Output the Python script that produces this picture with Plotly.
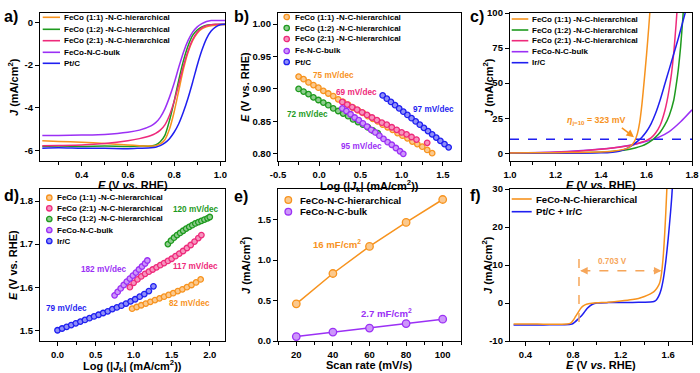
import plotly.graph_objects as go

FONT = "Liberation Sans, Arial, sans-serif"
W, H = 700, 373

ORANGE = '#F7931E'
GREEN = '#1E9A1E'
PINK = '#EE2A7B'
PURPLE = '#9B30F5'
BLUE = '#1F1FF0'

# ---------------- panel a: ORR LSV ----------------
a_E = [0.23, 0.30, 0.40, 0.50, 0.60, 0.65, 0.70, 0.72, 0.74, 0.76, 0.78, 0.80, 0.82, 0.84,
       0.86, 0.88, 0.90, 0.92, 0.94, 0.96, 0.98, 1.00, 1.02]
a_11 = [-5.55, -5.58, -5.62, -5.68, -5.75, -5.78, -5.80, -5.78, -5.70, -5.50, -5.00, -4.20, -3.20,
        -2.20, -1.40, -0.85, -0.50, -0.30, -0.20, -0.15, -0.12, -0.10, -0.10]
a_12 = [-5.82, -5.80, -5.82, -5.80, -5.82, -5.80, -5.80, -5.75, -5.60, -5.30, -4.60, -3.70, -2.70,
        -1.80, -1.10, -0.60, -0.35, -0.20, -0.12, -0.10, -0.09, -0.08, -0.08]
a_21 = [-5.78, -5.77, -5.75, -5.68, -5.55, -5.45, -5.30, -5.20, -5.05, -4.80, -4.35, -3.70, -2.90,
        -2.05, -1.35, -0.80, -0.45, -0.25, -0.15, -0.10, -0.08, -0.08, -0.08]
a_bulk = [-5.30, -5.30, -5.28, -5.25, -5.15, -5.05, -4.85, -4.70, -4.45, -4.05, -3.50, -2.85, -2.10,
          -1.40, -0.85, -0.45, -0.20, -0.05, 0.05, 0.10, 0.10, 0.10, 0.10]
a_pt = [-5.90, -5.88, -5.90, -5.90, -5.92, -5.90, -5.88, -5.85, -5.78, -5.65, -5.45, -5.15, -4.75,
        -4.20, -3.55, -2.80, -2.00, -1.30, -0.75, -0.40, -0.20, -0.10, -0.08]
a_xticks = [0.4, 0.6, 0.8, 1.0]
a_yticks = [0, -2, -4, -6]

# ---------------- panel b: ORR Tafel ----------------
b_x11 = [-0.25, -0.19, -0.13, -0.07, -0.01, 0.05, 0.11, 0.17, 0.23, 0.29, 0.35, 0.41, 0.47, 0.53,
         0.59, 0.65, 0.71, 0.77, 0.83, 0.89, 0.95, 1.01, 1.07, 1.13, 1.19, 1.25, 1.31, 1.37]
b_e11 = [0.919, 0.915, 0.910, 0.906, 0.902, 0.897, 0.893, 0.889, 0.884, 0.880, 0.876, 0.871, 0.867,
         0.863, 0.858, 0.854, 0.850, 0.845, 0.841, 0.837, 0.832, 0.828, 0.824, 0.819, 0.815, 0.811,
         0.806, 0.801]
b_x12 = [-0.25, -0.19, -0.13, -0.07, -0.01, 0.05, 0.11, 0.17, 0.23, 0.29, 0.35, 0.41, 0.47, 0.53,
         0.59, 0.65, 0.71]
b_e12 = [0.900, 0.896, 0.892, 0.887, 0.883, 0.879, 0.875, 0.870, 0.866, 0.862, 0.858, 0.853, 0.849,
         0.845, 0.841, 0.836, 0.832]
b_x21 = [0.28, 0.34, 0.40, 0.46, 0.52, 0.58, 0.64, 0.70, 0.76, 0.82, 0.88, 0.94, 1.00, 1.06, 1.12,
         1.18, 1.31]
b_e21 = [0.880, 0.876, 0.872, 0.868, 0.864, 0.860, 0.856, 0.852, 0.848, 0.845, 0.841, 0.837, 0.833,
         0.830, 0.826, 0.822, 0.817]
b_xfe = [0.28, 0.33, 0.38, 0.43, 0.48, 0.53, 0.58, 0.63, 0.68, 0.73, 0.78, 0.83, 0.88, 0.93, 0.98, 1.02]
b_efe = [0.870, 0.866, 0.861, 0.856, 0.852, 0.847, 0.842, 0.837, 0.833, 0.828, 0.823, 0.818, 0.814,
         0.809, 0.804, 0.800]
b_xpt = [0.77, 0.82, 0.87, 0.92, 0.97, 1.02, 1.07, 1.12, 1.17, 1.22, 1.27, 1.32, 1.37, 1.42, 1.47,
         1.52, 1.57]
b_ept = [0.890, 0.885, 0.880, 0.875, 0.870, 0.865, 0.860, 0.855, 0.850, 0.845, 0.840, 0.835, 0.830,
         0.825, 0.820, 0.815, 0.810]
b_xticks = [-0.5, 0.0, 0.5, 1.0, 1.5]
b_yticks = [0.80, 0.85, 0.90, 0.95, 1.00]

# ---------------- panel c: OER LSV ----------------
c_x11 = [1.00, 1.10, 1.20, 1.30, 1.40, 1.45, 1.50, 1.52, 1.53, 1.54, 1.55, 1.56, 1.57, 1.58, 1.59,
         1.60, 1.61, 1.62]
c_j11 = [0.2, 0.3, 0.4, 0.6, 1.0, 1.5, 2.8, 3.8, 5.0, 6.8, 9.5, 14, 22, 35, 52, 70, 90, 112]
c_x12 = [1.00, 1.20, 1.30, 1.40, 1.45, 1.50, 1.55, 1.58, 1.60, 1.62, 1.64, 1.66, 1.68, 1.70, 1.72,
         1.73, 1.74, 1.75, 1.76, 1.77]
c_j12 = [0.0, 0.1, 0.3, 0.8, 1.3, 2.2, 3.8, 5.3, 6.8, 8.8, 11.5, 15, 20, 27, 38, 48, 60, 76, 97, 120]
c_x21 = [1.00, 1.20, 1.30, 1.40, 1.45, 1.50, 1.55, 1.58, 1.60, 1.62, 1.64, 1.66, 1.68, 1.69, 1.70,
         1.71, 1.72, 1.73, 1.74]
c_j21 = [0.3, 0.8, 1.5, 2.8, 3.7, 4.8, 6.5, 8.0, 9.2, 11, 14.5, 20, 30, 37, 46, 57, 72, 92, 115]
c_xbulk = [1.00, 1.20, 1.30, 1.40, 1.45, 1.50, 1.55, 1.60, 1.65, 1.70, 1.75, 1.80]
c_jbulk = [0.3, 1.0, 1.8, 3.0, 3.8, 5.0, 6.5, 8.5, 11.2, 15.5, 22.5, 31]
c_xir = [1.00, 1.30, 1.40, 1.45, 1.48, 1.50, 1.52, 1.54, 1.56, 1.58, 1.60, 1.62, 1.64, 1.66, 1.68,
         1.70, 1.72, 1.74, 1.76, 1.78]
c_jir = [0.0, 0.1, 0.3, 0.8, 1.5, 2.5, 4.0, 6.0, 8.5, 11.5, 15.5, 21, 28.5, 38, 49, 60, 71, 82, 94, 106]
c_ref_j = 10
c_xticks = [1.0, 1.2, 1.4, 1.6, 1.8]
c_yticks = [0, 25, 50, 75, 100]

# ---------------- panel d: OER Tafel ----------------
d_xir = [0.00, 0.06, 0.12, 0.18, 0.24, 0.30, 0.36, 0.42, 0.48, 0.54, 0.60, 0.66, 0.72, 0.78, 0.84,
         0.90, 0.96, 1.02, 1.08, 1.14, 1.20, 1.26]
d_eir = [1.500, 1.504, 1.508, 1.512, 1.516, 1.520, 1.524, 1.528, 1.532, 1.536, 1.540, 1.544, 1.549,
         1.553, 1.557, 1.562, 1.567, 1.572, 1.578, 1.584, 1.591, 1.602]
d_x11 = [0.98, 1.04, 1.10, 1.16, 1.22, 1.28, 1.34, 1.40, 1.46, 1.52, 1.58, 1.64, 1.70, 1.76, 1.82, 1.88]
d_e11 = [1.550, 1.554, 1.558, 1.562, 1.566, 1.570, 1.574, 1.578, 1.582, 1.586, 1.591, 1.595, 1.600,
         1.605, 1.611, 1.618]
d_x21 = [0.95, 1.00, 1.05, 1.10, 1.15, 1.20, 1.25, 1.30, 1.35, 1.40, 1.45, 1.50, 1.55, 1.60, 1.65,
         1.70, 1.75, 1.80, 1.85, 1.89]
d_e21 = [1.600, 1.610, 1.618, 1.625, 1.631, 1.636, 1.641, 1.646, 1.651, 1.656, 1.661, 1.666, 1.672,
         1.678, 1.684, 1.691, 1.698, 1.706, 1.714, 1.721]
d_x12 = [1.45, 1.49, 1.53, 1.57, 1.61, 1.65, 1.69, 1.73, 1.77, 1.81, 1.85, 1.89, 1.93, 1.97, 2.00]
d_e12 = [1.700, 1.708, 1.715, 1.721, 1.726, 1.731, 1.736, 1.740, 1.744, 1.748, 1.751, 1.754, 1.757,
         1.760, 1.763]
d_xbulk = [0.75, 0.79, 0.83, 0.87, 0.91, 0.95, 0.99, 1.03, 1.07, 1.11, 1.15, 1.18]
d_ebulk = [1.581, 1.589, 1.597, 1.605, 1.613, 1.620, 1.627, 1.634, 1.641, 1.648, 1.655, 1.662]
d_xticks = [0.0, 0.5, 1.0, 1.5, 2.0]
d_yticks = [1.5, 1.6, 1.7, 1.8]

# ---------------- panel e: Cdl ----------------
e_rate = [20, 40, 60, 80, 100]
e_hier = [0.46, 0.835, 1.17, 1.467, 1.75]
e_bulk = [0.055, 0.11, 0.16, 0.215, 0.27]
e_xticks = [20, 40, 60, 80, 100]
e_yticks = [0.0, 0.5, 1.0, 1.5]

# ---------------- panel f: bifunctional ----------------
f_xh = [0.30, 0.40, 0.50, 0.60, 0.70, 0.75, 0.78, 0.80, 0.82, 0.84, 0.86, 0.88, 0.90, 0.93, 0.96,
        1.00, 1.10, 1.20, 1.30, 1.35, 1.40, 1.45, 1.48, 1.50, 1.52, 1.53, 1.54, 1.55, 1.56, 1.57,
        1.58, 1.59]
f_jh = [-5.5, -5.5, -5.55, -5.6, -5.6, -5.55, -5.3, -4.6, -3.6, -2.6, -1.6, -0.9, -0.5, -0.2, -0.05,
        0.05, 0.2, 0.5, 0.9, 1.2, 1.7, 2.4, 3.0, 3.7, 4.7, 5.5, 7.0, 9.5, 13, 18, 24, 31]
f_xp = [0.30, 0.40, 0.50, 0.60, 0.70, 0.78, 0.80, 0.82, 0.84, 0.86, 0.88, 0.90, 0.92, 0.94, 0.96,
        0.98, 1.00, 1.10, 1.20, 1.30, 1.40, 1.45, 1.48, 1.50, 1.52, 1.54, 1.56, 1.58, 1.60, 1.62,
        1.63, 1.64]
f_jp = [-5.8, -5.8, -5.8, -5.75, -5.75, -5.6, -5.4, -4.9, -4.3, -3.7, -3.0, -2.2, -1.4, -0.8, -0.4,
        -0.15, 0.0, 0.1, 0.15, 0.15, 0.2, 0.25, 0.4, 0.8, 1.8, 3.5, 6.5, 11, 17, 24, 28, 33]
f_gap_v = 0.703
f_xticks = [0.4, 0.8, 1.2, 1.6]
f_yticks = [-10, 0, 10, 20, 30]

# ======================================================================
fig = go.Figure()


def ax_ids(n):
    s = '' if n == 1 else str(n)
    return 'x' + s, 'y' + s


def line_tr(x, y, color, n):
    xa, ya = ax_ids(n)
    fig.add_trace(go.Scatter(x=x, y=y, mode='lines', line=dict(color=color, width=1.5, shape='spline', smoothing=0.6),
                             xaxis=xa, yaxis=ya, showlegend=False, hoverinfo='skip'))


def light(c, f=0.5):
    c = c.lstrip('#')
    r, g, b = int(c[0:2], 16), int(c[2:4], 16), int(c[4:6], 16)
    r = int(r + (255 - r) * f); g = int(g + (255 - g) * f); b = int(b + (255 - b) * f)
    return '#%02x%02x%02x' % (r, g, b)


def dot_tr(x, y, color, n, size=5.5, mode='markers'):
    xa, ya = ax_ids(n)
    fig.add_trace(go.Scatter(x=x, y=y, mode=mode,
                             marker=dict(color=light(color), size=size, line=dict(color=color, width=1.3)),
                             line=dict(color=color, width=1.5),
                             xaxis=xa, yaxis=ya, showlegend=False, hoverinfo='skip'))


line_tr(a_E, a_12, GREEN, 1)
line_tr(a_E, a_11, ORANGE, 1)
line_tr(a_E, a_21, PINK, 1)
line_tr(a_E, a_bulk, PURPLE, 1)
line_tr(a_E, a_pt, BLUE, 1)
dot_tr(b_x11, b_e11, ORANGE, 2)
dot_tr(b_x12, b_e12, GREEN, 2)
dot_tr(b_x21, b_e21, PINK, 2)
dot_tr(b_xfe, b_efe, PURPLE, 2)
dot_tr(b_xpt, b_ept, BLUE, 2)
line_tr(c_xbulk, c_jbulk, PURPLE, 3)
line_tr(c_x12, c_j12, GREEN, 3)
line_tr(c_x21, c_j21, PINK, 3)
line_tr(c_xir, c_jir, BLUE, 3)
line_tr(c_x11, c_j11, ORANGE, 3)
dot_tr(d_xir, d_eir, BLUE, 4)
dot_tr(d_x11, d_e11, ORANGE, 4)
dot_tr(d_x21, d_e21, PINK, 4)
dot_tr(d_x12, d_e12, GREEN, 4)
dot_tr(d_xbulk, d_ebulk, PURPLE, 4)
dot_tr(e_rate, e_hier, ORANGE, 5, size=7.5, mode='lines+markers')
dot_tr(e_rate, e_bulk, PURPLE, 5, size=7.5, mode='lines+markers')
line_tr(f_xp, f_jp, BLUE, 6)
line_tr(f_xh, f_jh, ORANGE, 6)

# ---------------- axes ----------------
TICKF = dict(family=FONT, size=9.5, color='black', weight='bold')
TITLEF = dict(family=FONT, size=11, color='black', weight='bold')

colx = [(40, 225), (278, 461), (510, 692)]
rowy = [(13, 161), (189, 341)]


def xd(p):
    return [p[0] / W, p[1] / W]


def yd(p):
    return [1 - p[1] / H, 1 - p[0] / H]


def base(**kw):
    d = dict(showline=True, linewidth=1.3, linecolor='black', mirror=True, ticks='outside', ticklen=4,
             tickwidth=1.3, tickcolor='black', showgrid=False, zeroline=False, tickfont=TICKF,
             ticklabeloverflow='allow', automargin=False)
    d.update(kw)
    return d


def lbl(vals, fmt):
    return [(fmt % v).replace('\u2212', '-') for v in vals]


E_it = "<i>E</i> (V <i>vs</i>. RHE)"
E_up = "<i>E</i> (V vs. RHE)"
J_t = "<i>J</i> (mA/cm<sup>2</sup>)"
LOG_t = "Log (|<i>J</i><sub>k</sub>| (mA/cm<sup>2</sup>))"

specs = [
    # n, col, row, xrange, xticks, xfmt, xminor, yrange, yticks, yfmt, xtitle, ytitle, ytitle_x, xtitle_y
    (1, 0, 0, [0.22, 1.02], a_xticks, '%.1f', 0.1, [-6.5, 0.45], a_yticks, '%d', E_it, J_t, 13, 185),
    (2, 1, 0, [-0.5, 1.72], b_xticks, '%.1f', 0.25, [0.789, 1.017], b_yticks, '%.2f', LOG_t, E_up, 245, 185.5),
    (3, 2, 0, [1.0, 1.8], c_xticks, '%.1f', 0.1, [-5.5, 100], c_yticks, '%d', E_it, J_t, 488, 185),
    (4, 0, 1, [-0.23, 2.2], d_xticks, '%.1f', 0.25, [1.475, 1.828], d_yticks, '%.1f', LOG_t, E_up, 13, 365.5),
    (5, 1, 1, [10, 110], e_xticks, '%d', 10, [0, 1.88], e_yticks, '%.1f', "Scan rate (mV/s)", J_t, 245, 364.5),
    (6, 2, 1, [0.27, 1.8], f_xticks, '%.1f', 0.2, [-10, 30], f_yticks, '%d', E_it, J_t, 487, 364.5),
]
lay = {}
annots = []
shapes = []
for n, c, r, xr, xtv, xf, xm, yr, ytv, yf, xt, yt, ytx, xty in specs:
    sfx = '' if n == 1 else str(n)
    lay['xaxis' + sfx] = base(domain=xd(colx[c]), range=xr, tickmode='array', tickvals=xtv,
                              ticktext=lbl(xtv, xf), anchor='y' + sfx,
                              minor=dict(ticks='outside', ticklen=2.5, tickwidth=1, tickcolor='black',
                                         tickmode='linear', tick0=0, dtick=xm))
    lay['yaxis' + sfx] = base(domain=yd(rowy[r]), range=yr, tickmode='array', tickvals=ytv,
                              ticktext=lbl(ytv, yf), anchor='x' + sfx)
    xc = (colx[c][0] + colx[c][1]) / 2
    yc = (rowy[r][0] + rowy[r][1]) / 2
    annots.append(dict(text='<b>%s</b>' % xt, x=xc / W, y=1 - xty / H, xref='paper', yref='paper',
                       xanchor='center', yanchor='middle', showarrow=False, font=TITLEF))
    annots.append(dict(text='<b>%s</b>' % yt, x=ytx / W, y=1 - yc / H, xref='paper', yref='paper',
                       xanchor='center', yanchor='middle', showarrow=False, textangle=-90, font=TITLEF))

fig.update_layout(width=W, height=H, margin=dict(l=0, r=0, t=0, b=0), plot_bgcolor='white',
                  paper_bgcolor='white', showlegend=False, **lay)

for lab, px, py in [('a)', 2, 16), ('b)', 232, 16), ('c)', 468, 16), ('d)', 2, 195), ('e)', 232, 196), ('f)', 468, 195)]:
    annots.append(dict(text='<b>%s</b>' % lab, x=px / W, y=1 - py / H, xref='paper', yref='paper',
                       xanchor='left', yanchor='middle', showarrow=False,
                       font=dict(family=FONT, size=16, color='black', weight='bold')))

LEGF = 8


def leg_line(x0, x1, xt, py, color, text, size=LEGF):
    shapes.append(dict(type='line', xref='paper', yref='paper', x0=x0 / W, x1=x1 / W, y0=1 - py / H,
                       y1=1 - py / H, line=dict(color=color, width=1.6)))
    annots.append(dict(text='<b>%s</b>' % text, x=xt / W, y=1 - py / H, xref='paper', yref='paper',
                       xanchor='left', yanchor='middle', showarrow=False,
                       font=dict(family=FONT, size=size, color='black', weight='bold')))


def leg_dot(xc, xt, py, color, text, size=LEGF, r=2.7):
    shapes.append(dict(type='circle', xref='paper', yref='paper', xsizemode='pixel', ysizemode='pixel',
                       xanchor=xc / W, yanchor=1 - py / H, x0=-r, x1=r, y0=-r, y1=r,
                       fillcolor=light(color), line=dict(color=color, width=1.3)))
    annots.append(dict(text='<b>%s</b>' % text, x=xt / W, y=1 - py / H, xref='paper', yref='paper',
                       xanchor='left', yanchor='middle', showarrow=False,
                       font=dict(family=FONT, size=size, color='black', weight='bold')))


L11 = "FeCo (1:1) -N-C-hierarchical"
L12 = "FeCo (1:2) -N-C-hierarchical"
L21 = "FeCo (2:1) -N-C-hierarchical"

for py, col, t in zip([17.3, 29.3, 40.7, 52.3, 63.3], [ORANGE, GREEN, PINK, PURPLE, BLUE],
                      [L11, L12, L21, "FeCo-N-C-bulk", "Pt/C"]):
    leg_line(42.7, 60, 61.7, py, col, t)
for py, col, t in zip([17, 28, 39, 51, 62], [ORANGE, GREEN, PINK, PURPLE, BLUE],
                      [L11, L12, L21, "Fe-N-C-bulk", "Pt/C"]):
    leg_dot(286.7, 293, py, col, t)
for py, col, t in zip([19, 30, 40.7, 51.7, 62.7], [ORANGE, GREEN, PINK, PURPLE, BLUE],
                      [L11, L12, L21, "FeCo-N-C-bulk", "Ir/C"]):
    leg_line(511.7, 528.3, 530, py, col, t)
for py, col, t in zip([197.7, 208.3, 219, 230, 241], [ORANGE, PINK, GREEN, PURPLE, BLUE],
                      [L11, L21, L12, "FeCo-N-C-bulk", "Ir/C"]):
    leg_dot(49.3, 55, py, col, t)
for py, col, t in zip([200, 211.7], [ORANGE, PURPLE], ["FeCo-N-C-hierarchical", "FeCo-N-C-bulk"]):
    leg_dot(288.3, 298, py, col, t, size=9.6, r=3.3)
for py, col, t in zip([199, 211.7], [ORANGE, BLUE], ["FeCo-N-C-hierarchical", "Pt/C + Ir/C"]):
    leg_line(511.7, 531.7, 534, py, col, t, size=9.6)


def dtext(text, x, y, n, color, size=8.2):
    xa, ya = ax_ids(n)
    annots.append(dict(text='<b>%s</b>' % text, x=x, y=y, xref=xa, yref=ya,
                       showarrow=False, font=dict(family=FONT, size=size, color=color, weight='bold')))


dtext("75 mV/dec", 0.17, 0.920, 2, ORANGE)
dtext("69 mV/dec", 0.45, 0.895, 2, PINK)
dtext("72 mV/dec", -0.14, 0.860, 2, GREEN)
dtext("95 mV/dec", 0.51, 0.811, 2, PURPLE)
dtext("97 mV/dec", 1.39, 0.869, 2, BLUE)
dtext("182 mV/dec", 0.61, 1.640, 4, PURPLE)
dtext("117 mV/dec", 1.81, 1.647, 4, PINK)
dtext("120 mV/dec", 1.82, 1.781, 4, GREEN)
dtext("79 mV/dec", 0.12, 1.550, 4, BLUE)
dtext("82 mV/dec", 1.73, 1.562, 4, ORANGE)
dtext("16 mF/cm<sup>2</sup>", 42.5, 1.20, 5, ORANGE, size=9.6)
dtext("2.7 mF/cm<sup>2</sup>", 69.5, 0.35, 5, PURPLE, size=9.6)

shapes.append(dict(type='line', xref='x3 domain', yref='y3', x0=0, x1=1, y0=c_ref_j, y1=c_ref_j,
                   line=dict(color=BLUE, width=1.5, dash='dash')))
dtext("<i>η</i><sub>j=10</sub> = 323 mV", 1.38, 23.6, 3, ORANGE, size=8.8)
annots.append(dict(text='', x=1.545, y=11.5, ax=1.485, ay=19, xref='x3', yref='y3', axref='x3', ayref='y3',
                   showarrow=True, arrowhead=2, arrowsize=1, arrowwidth=1.5, arrowcolor=ORANGE))

DASHC = '#F6A65A'
shapes.append(dict(type='line', xref='x6', yref='y6', x0=0.85, x1=0.85, y0=-5, y1=12,
                   line=dict(color=DASHC, width=1.5, dash='dash')))
shapes.append(dict(type='line', xref='x6', yref='y6', x0=0.87, x1=0.85 + f_gap_v - 0.02, y0=8.5, y1=8.5,
                   line=dict(color=DASHC, width=1.5, dash='dash')))
annots.append(dict(text='', x=0.86, y=8.5, ax=0.92, ay=8.5, xref='x6', yref='y6', axref='x6', ayref='y6',
                   showarrow=True, arrowhead=2, arrowsize=1, arrowwidth=1.5, arrowcolor=DASHC))
annots.append(dict(text='', x=0.85 + f_gap_v - 0.01, y=8.5, ax=0.85 + f_gap_v - 0.07, ay=8.5, xref='x6',
                   yref='y6', axref='x6', ayref='y6',
                   showarrow=True, arrowhead=2, arrowsize=1, arrowwidth=1.5, arrowcolor=DASHC))
dtext("%.3f V" % f_gap_v, 1.13, 10.8, 6, DASHC, size=8.2)

fig.update_layout(annotations=annots, shapes=shapes)
fig.write_html("out.html", config={'displayModeBar': False},
               post_script="document.body.style.margin='0';document.body.style.overflow='hidden';")
